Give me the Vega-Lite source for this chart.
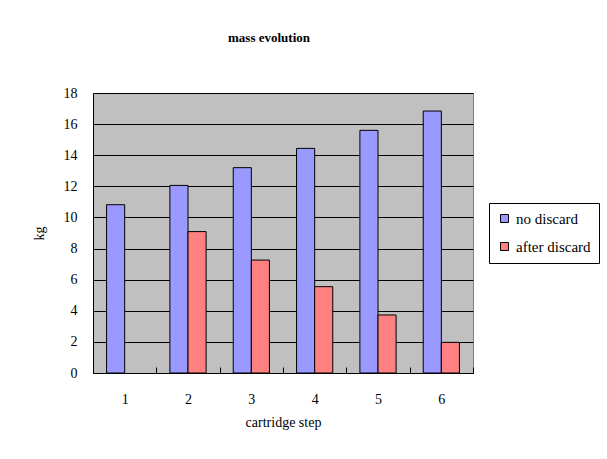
{
  "$schema": "https://vega.github.io/schema/vega-lite/v6.json",
  "autosize": "none",
  "width": 380,
  "height": 280,
  "padding": {"left": 93, "top": 93, "right": 134, "bottom": 86},
  "background": "white",
  "title": {
    "text": "mass  evolution",
    "font": "Liberation Serif",
    "fontSize": 13,
    "fontWeight": "bold",
    "color": "black",
    "anchor": "middle",
    "offset": 41,
    "dx": -14
  },
  "data": {
    "values": [
      {"step": "1", "series": "no discard", "mass": 10.82},
      {"step": "2", "series": "no discard", "mass": 12.06},
      {"step": "2", "series": "after discard", "mass": 9.09},
      {"step": "3", "series": "no discard", "mass": 13.2},
      {"step": "3", "series": "after discard", "mass": 7.26},
      {"step": "4", "series": "no discard", "mass": 14.44},
      {"step": "4", "series": "after discard", "mass": 5.55},
      {"step": "5", "series": "no discard", "mass": 15.6},
      {"step": "5", "series": "after discard", "mass": 3.73},
      {"step": "6", "series": "no discard", "mass": 16.84},
      {"step": "6", "series": "after discard", "mass": 1.97}
    ]
  },
  "mark": {"type": "bar", "stroke": "black", "strokeWidth": 1},
  "encoding": {
    "x": {
      "field": "step",
      "type": "nominal",
      "scale": {"paddingInner": 0, "paddingOuter": 0},
      "axis": {
        "title": "cartridge step",
        "labelAngle": 0,
        "tickBand": "extent",
        "tickSize": -6,
        "tickColor": "black",
        "domainColor": "black",
        "labelPadding": 25,
        "titlePadding": 9
      }
    },
    "xOffset": {
      "field": "series",
      "type": "nominal",
      "sort": ["no discard", "after discard"],
      "scale": {"paddingInner": 0, "paddingOuter": 0.75}
    },
    "y": {
      "field": "mass",
      "type": "quantitative",
      "scale": {"domain": [0, 18]},
      "axis": {
        "title": "kg",
        "values": [0, 2, 4, 6, 8, 10, 12, 14, 16, 18],
        "ticks": false,
        "labelPadding": 16,
        "titlePadding": 17,
        "gridColor": "black",
        "gridOpacity": 1,
        "domainColor": "black"
      }
    },
    "color": {
      "field": "series",
      "type": "nominal",
      "sort": ["no discard", "after discard"],
      "scale": {"domain": ["no discard", "after discard"], "range": ["#9999FF", "#FF8080"]},
      "legend": {
        "title": null,
        "orient": "none",
        "legendX": 396,
        "legendY": 110,
        "symbolType": "square",
        "symbolSize": 64,
        "symbolStrokeColor": "black",
        "symbolStrokeWidth": 1,
        "symbolOpacity": 1,
        "labelFontSize": 15,
        "labelFont": "Liberation Serif",
        "labelColor": "black",
        "labelOffset": 4,
        "rowPadding": 12,
        "padding": 8,
        "strokeColor": "black",
        "fillColor": "white"
      }
    }
  },
  "config": {
    "view": {"fill": "#C0C0C0", "stroke": "#808080", "strokeWidth": 1},
    "axis": {
      "labelFont": "Liberation Serif",
      "labelFontSize": 14,
      "labelColor": "black",
      "titleFont": "Liberation Serif",
      "titleFontSize": 14,
      "titleFontWeight": "normal",
      "titleColor": "black"
    },
    "legend": {"labelFont": "Liberation Serif", "labelFontSize": 15},
    "axisX": {"grid": false},
    "axisY": {"titleAngle": -90}
  }
}
